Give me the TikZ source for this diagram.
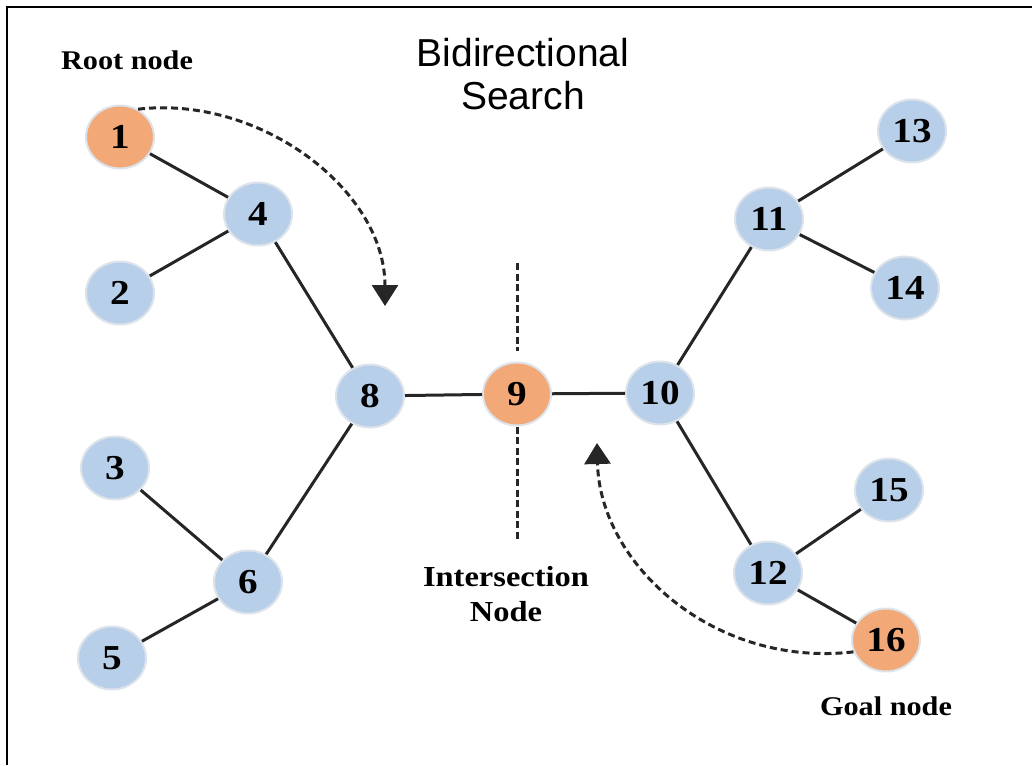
\documentclass[tikz,border=0pt]{standalone}
\usepackage{fontspec}
\setmainfont{Liberation Serif}
\newfontfamily\titlefont{Liberation Sans}
\newfontfamily\labelfont[FakeStretch=1.12]{Liberation Serif}
\usetikzlibrary{arrows.meta,shapes.geometric}

\definecolor{nodeblue}{HTML}{B8CFEA}
\definecolor{nodeorange}{HTML}{F2A877}
\definecolor{halo}{HTML}{DDE3EA}

\tikzset{
  vertex/.style={ellipse, minimum width=68pt, minimum height=63pt, inner sep=0pt,
    fill=nodeblue, draw=halo, line width=2pt,
    font=\labelfont\bfseries\fontsize{35}{35}\selectfont},
  special/.style={vertex, fill=nodeorange},
  edge/.style={line width=3pt, black!85},
  divider/.style={line width=3pt, dash pattern=on 7pt off 3.5pt, black!85},
  search/.style={line width=3pt, dash pattern=on 7pt off 4pt, black!85,
    -{Triangle[length=21pt,width=26pt]}},
  caption/.style={font=\labelfont\bfseries\fontsize{27}{27}\selectfont, inner sep=0pt}
}

\begin{document}
\begin{tikzpicture}[x=1pt, y=-1pt]
  \useasboundingbox (0,0) rectangle (1032,765);
  % frame
  \draw[line width=2pt] (7,765) -- (7,7.5) -- (1032,7.5);

  % title
  \node[align=center, inner sep=0pt, font=\titlefont\fontsize{39}{43}\selectfont]
    (title) at (523,74) {Bidirectional\\Search};

  % dashed divider through the intersection node
  \coordinate (vtop) at (517,263);
  \coordinate (vbot) at (517,540);

  % nodes
  \node[special] (n1)  at (120,137) {1};
  \node[vertex]  (n2)  at (120,293) {2};
  \node[vertex]  (n3)  at (115,468) {3};
  \node[vertex]  (n4)  at (258,214) {4};
  \node[vertex]  (n5)  at (112,658) {5};
  \node[vertex]  (n6)  at (248,582) {6};
  \node[vertex]  (n8)  at (370,396) {8};
  \node[special] (n9)  at (517,394) {9};
  \node[vertex]  (n10) at (660,393) {10};
  \node[vertex]  (n11) at (769,219) {11};
  \node[vertex]  (n12) at (768,573) {12};
  \node[vertex]  (n13) at (912,131) {13};
  \node[vertex]  (n14) at (905,288) {14};
  \node[vertex]  (n15) at (889,490) {15};
  \node[special] (n16) at (886,640) {16};

  \draw[divider, shorten >=11pt] (vtop) -- (n9.north);
  \draw[divider] (n9.south) -- (vbot);

  % tree edges
  \draw[edge] (n1) -- (n4);
  \draw[edge] (n2) -- (n4);
  \draw[edge] (n4) -- (n8);
  \draw[edge] (n3) -- (n6);
  \draw[edge] (n5) -- (n6);
  \draw[edge] (n6) -- (n8);
  \draw[edge] (n8) -- (n9);
  \draw[edge] (n9) -- (n10);
  \draw[edge] (n10) -- (n11);
  \draw[edge] (n11) -- (n13);
  \draw[edge] (n11) -- (n14);
  \draw[edge] (n10) -- (n12);
  \draw[edge] (n12) -- (n15);
  \draw[edge] (n12) -- (n16);

  % search fronts
  \coordinate (fwdtip) at (385,306);
  \coordinate (bwdtip) at (597,443);
  \draw[search] (n1.57) .. controls (260,95) and (385,190) .. (fwdtip);
  \draw[search] (n16.200) .. controls (715,668) and (600,565) .. (bwdtip);

  % labels
  \node[caption, anchor=base] (rootlbl) at (127,70) {Root node};
  \node[caption, anchor=base] (goallbl) at (886,715) {Goal node};
  \node[align=center, inner sep=0pt,
        font=\labelfont\bfseries\fontsize{29}{35}\selectfont]
    (interlbl) at (506,594) {Intersection\\Node};
\end{tikzpicture}
\end{document}
